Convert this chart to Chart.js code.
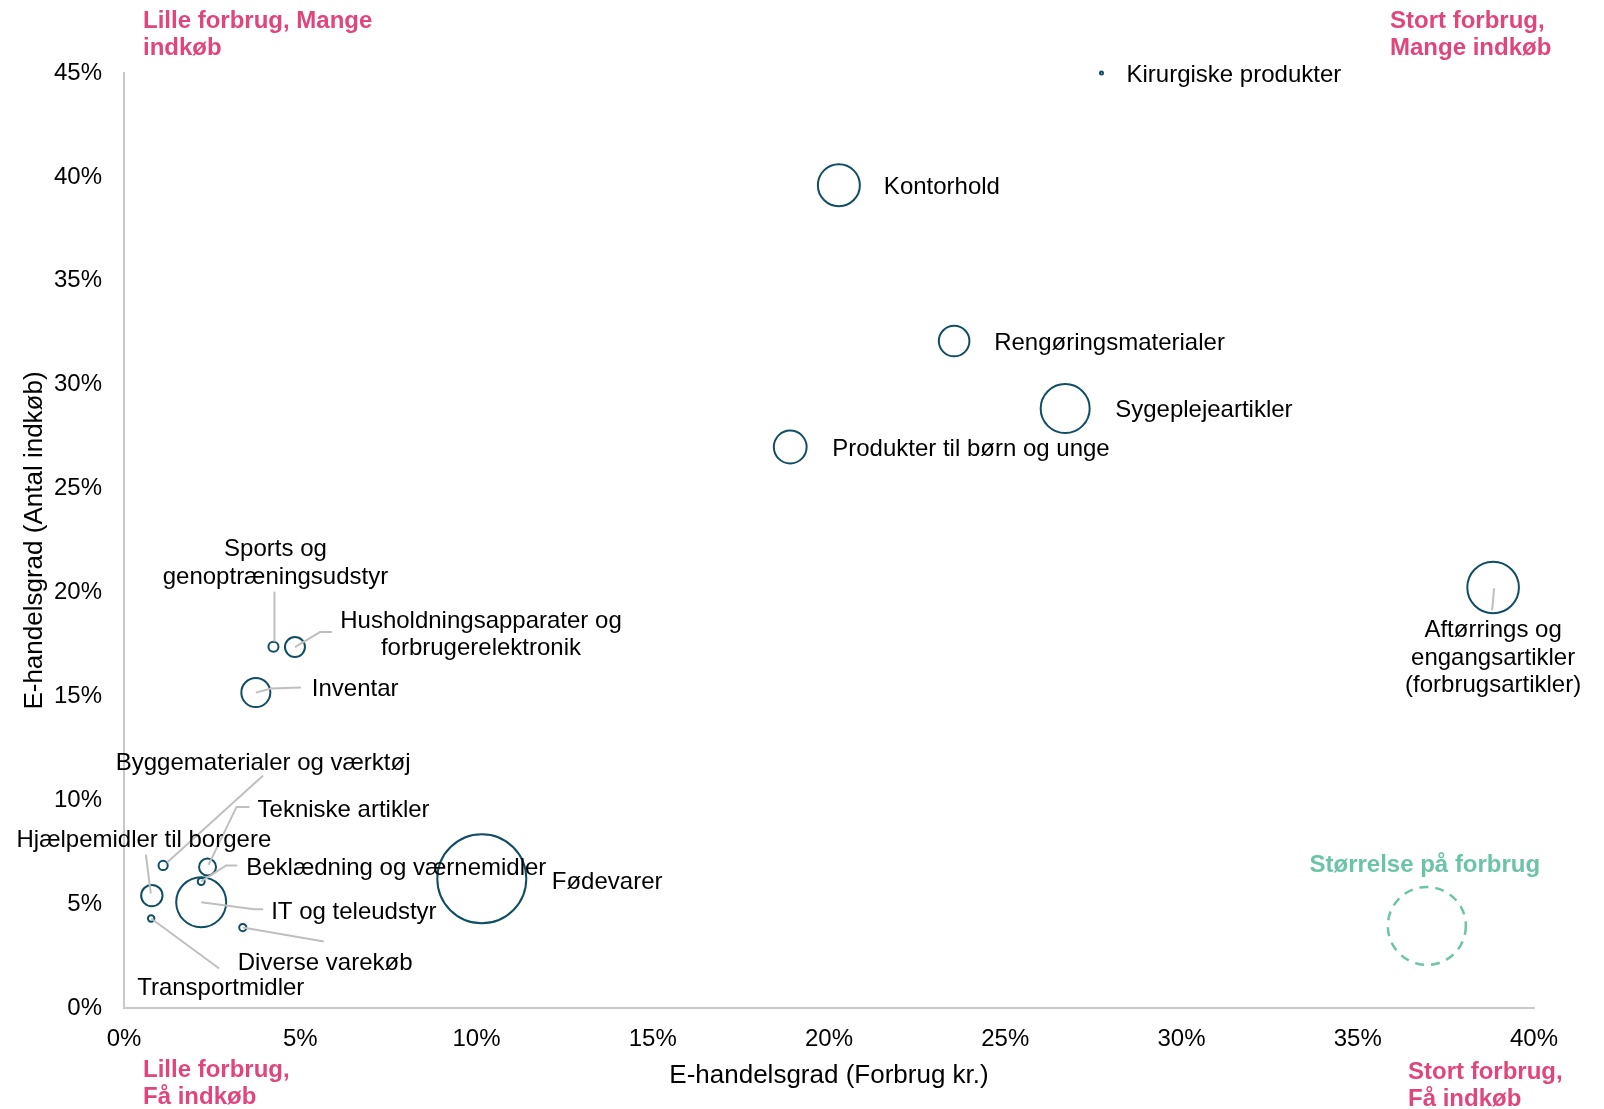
<!DOCTYPE html>
<html lang="da">
<head>
<meta charset="utf-8">
<title>E-handelsgrad</title>
<script src="https://cdn.jsdelivr.net/npm/chart.js@4.4.1/dist/chart.umd.min.js"></script>
<style>
  html, body { margin: 0; padding: 0; background: #fff; }
  #wrap { width: 1604px; height: 1109px; }
</style>
</head>
<body>
<div id="wrap"><canvas id="bubbleChart" width="1604" height="1109"></canvas></div>
<script>
// data
const categories = [
  "Kirurgiske produkter",
  "Kontorhold",
  "Rengøringsmaterialer",
  "Sygeplejeartikler",
  "Produkter til børn og unge",
  "Aftørrings og\nengangsartikler\n(forbrugsartikler)",
  "Sports og\ngenoptræningsudstyr",
  "Husholdningsapparater og\nforbrugerelektronik",
  "Inventar",
  "Fødevarer",
  "Byggematerialer og værktøj",
  "Tekniske artikler",
  "Hjælpemidler til borgere",
  "Beklædning og værnemidler",
  "IT og teleudstyr",
  "Diverse varekøb",
  "Transportmidler",
];
const forbrugPct = [27.73, 20.28, 23.55, 26.7, 18.9, 38.84, 4.24, 4.85, 3.74, 10.15, 1.11, 2.37, 0.79, 2.19, 2.19, 3.37, 0.77];
const indkobPct  = [45.0, 39.6, 32.1, 28.85, 27.0, 20.24, 17.39, 17.37, 15.18, 6.22, 6.86, 6.79, 5.41, 6.09, 5.09, 3.87, 4.31];
const forbrugSize = [0.25, 49, 26, 66.7, 29.9, 74, 2.8, 11.1, 23.4, 220, 2.35, 8.0, 12.7, 1.36, 69.4, 1.44, 1.14];
const xTicks = [0, 5, 10, 15, 20, 25, 30, 35, 40];
const yTicks = [0, 5, 10, 15, 20, 25, 30, 35, 40, 45];

// label placement (pixel offsets from the bubble centre)
const labelLayout = [
  { dx: 25, dy: 0, align: "left" },
  { dx: 45, dy: 0, align: "left" },
  { dx: 40, dy: 0, align: "left" },
  { dx: 50, dy: 0, align: "left" },
  { dx: 42, dy: 0, align: "left" },
  { dx: 0, dy: 41, align: "center", leader: [[1, 1], [-1, 23]] },
  { dx: 2, dy: -99, align: "center", leader: [[1, -55], [1, -5]] },
  { dx: 186, dy: -28, align: "center", leader: [[0, 0], [25, -15], [37, -15]] },
  { dx: 56, dy: -5, align: "left", leader: [[0, 0], [15, -4], [45, -5]] },
  { dx: 70, dy: 2, align: "left" },
  { dx: 100, dy: -104, align: "center", leader: [[4, -3], [100, -90]] },
  { dx: 50, dy: -59, align: "left", leader: [[1, -2], [29, -60], [42, -60]] },
  { dx: -8, dy: -57, align: "center", leader: [[-6, -41], [-1, -2]] },
  { dx: 45, dy: -15, align: "left", leader: [[0, 0], [25, -16], [36, -16]] },
  { dx: 70, dy: 8, align: "left", leader: [[0, 0], [53, 7], [62, 7]] },
  { dx: -5, dy: 34, align: "left", leader: [[0, 0], [81, 14]] },
  { dx: -14, dy: 68, align: "left", leader: [[0, 0], [68, 50]] },
];

const FONT = "'Liberation Sans', Arial, sans-serif";
const PINK = "#E0467C";
const TEAL = "#6CC4A8";
const LINE_H = 27.6;
const TEXT_SHIFT = 2; // glyphs sit a bit lower than the em-box middle

const bubbleLabels = {
  id: "bubbleLabels",
  afterDatasetsDraw(chart) {
    const ctx = chart.ctx;
    const meta = chart.getDatasetMeta(0);
    ctx.save();
    meta.data.forEach((pt, i) => {
      const lay = labelLayout[i];
      if (lay.leader) {
        ctx.strokeStyle = "#BFBFBF";
        ctx.lineWidth = 2;
        ctx.beginPath();
        lay.leader.forEach(([lx, ly], k) => {
          if (k === 0) ctx.moveTo(pt.x + lx, pt.y + ly);
          else ctx.lineTo(pt.x + lx, pt.y + ly);
        });
        ctx.stroke();
      }
      ctx.fillStyle = "#000";
      ctx.font = "24px " + FONT;
      ctx.textAlign = lay.align;
      ctx.textBaseline = "middle";
      categories[i].split("\n").forEach((line, k) => {
        ctx.fillText(line, pt.x + lay.dx, pt.y + lay.dy + k * LINE_H + TEXT_SHIFT);
      });
    });
    ctx.restore();
  },
};

const corners = {
  id: "corners",
  afterDraw(chart) {
    const ctx = chart.ctx;
    const a = chart.chartArea;
    ctx.save();
    ctx.font = "bold 24px " + FONT;
    ctx.textBaseline = "middle";
    ctx.textAlign = "left";
    ctx.fillStyle = PINK;
    const put = (lines, x, y) => lines.forEach((t, k) => ctx.fillText(t, x, y + k * LINE_H));
    put(["Lille forbrug, Mange", "indkøb"], a.left + 19, 21);
    put(["Stort forbrug,", "Mange indkøb"], a.right - 144, 21);
    put(["Lille forbrug,", "Få indkøb"], a.left + 19, 1070);
    put(["Stort forbrug,", "Få indkøb"], a.right - 126, 1072);

    // size legend
    const cx = chart.scales.x.getPixelForValue(36.96);
    const cy = chart.scales.y.getPixelForValue(3.95);
    ctx.fillStyle = TEAL;
    ctx.textAlign = "center";
    ctx.fillText("Størrelse på forbrug", cx - 2, cy - 61);
    ctx.strokeStyle = TEAL;
    ctx.lineWidth = 2.5;
    ctx.setLineDash([9, 7]);
    ctx.beginPath();
    ctx.arc(cx, cy, 39, 0, Math.PI * 2);
    ctx.stroke();
    ctx.restore();
  },
};

const ctx = document.getElementById("bubbleChart").getContext("2d");
new Chart(ctx, {
  type: "bubble",
  data: {
    datasets: [
      {
        label: "E-handelsgrad",
        data: categories.map((c, i) => ({
          x: forbrugPct[i],
          y: indkobPct[i],
          r: 3 * Math.sqrt(forbrugSize[i]),
        })),
        borderColor: "#104E64",
        backgroundColor: "rgba(0,0,0,0)",
        borderWidth: 2,
        hoverBorderWidth: 2,
        clip: false,
      },
    ],
  },
  options: {
    responsive: false,
    animation: false,
    events: [],
    layout: {
      padding: { top: 73, right: 70, left: 0, bottom: 0 },
    },
    plugins: {
      legend: { display: false },
      tooltip: { enabled: false },
    },
    scales: {
      x: {
        type: "linear",
        min: 0,
        max: 40,
        afterBuildTicks: (s) => { s.ticks = xTicks.map((v) => ({ value: v })); },
        afterFit: (s) => { s.height = 101; },
        grid: { display: false, drawTicks: false },
        border: { display: true, color: "#C8C8C8", width: 2 },
        ticks: {
          padding: 17,
          color: "#000",
          font: { family: FONT, size: 24 },
          callback: (v) => v + "%",
        },
        title: {
          display: true,
          text: "E-handelsgrad (Forbrug kr.)",
          color: "#000",
          font: { family: FONT, size: 26 },
          padding: { top: 0, bottom: 18 },
        },
      },
      y: {
        type: "linear",
        min: 0,
        max: 45,
        afterBuildTicks: (s) => { s.ticks = yTicks.map((v) => ({ value: v })); },
        afterFit: (s) => { s.width = 124; },
        grid: { display: false, drawTicks: false },
        border: { display: true, color: "#C8C8C8", width: 2 },
        ticks: {
          padding: 22,
          color: "#000",
          font: { family: FONT, size: 24 },
          callback: (v) => v + "%",
        },
        title: {
          display: true,
          text: "E-handelsgrad (Antal indkøb)",
          color: "#000",
          font: { family: FONT, size: 26 },
          padding: { top: 19, bottom: 0 },
        },
      },
    },
  },
  plugins: [bubbleLabels, corners],
});
</script>
</body>
</html>
